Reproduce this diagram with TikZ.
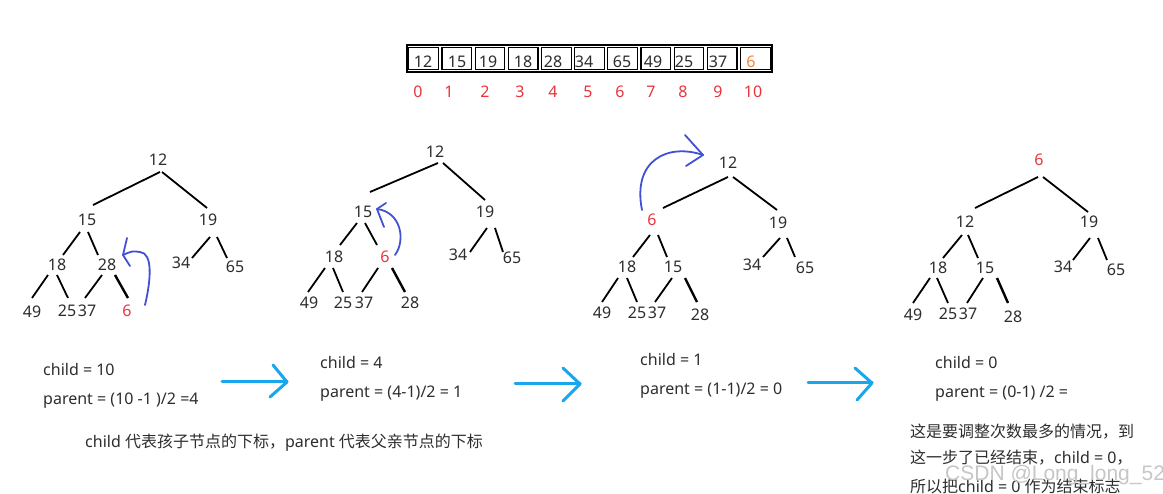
\documentclass[tikz,border=0pt]{standalone}
\usepackage{fontspec}
\setmainfont{Noto Sans}
\newfontfamily\cjk{Noto Sans CJK SC}
\newfontfamily\wmfont{Liberation Sans}
\definecolor{txt}{RGB}{45,45,45}
\definecolor{idxred}{RGB}{232,52,60}
\definecolor{orng}{RGB}{240,136,60}
\definecolor{hand}{RGB}{66,80,212}
\definecolor{cyanarr}{RGB}{24,166,236}
\newcommand\tedge[4]{\draw[edge] ([shift={#2}]#1.center) -- ([shift={#4}]#3.center);}
\newcommand\tedgeb[4]{\draw[edge,line width=2.4pt] ([shift={#2}]#1.center) -- ([shift={#4}]#3.center);}
\begin{document}
\begin{tikzpicture}[x=1pt,y=-1pt,
  tn/.style={font=\fontsize{16}{19}\selectfont,text=txt,inner sep=0pt},
  rn/.style={tn,text=idxred},
  lbl/.style={font=\fontsize{16}{19}\selectfont,text=txt,inner sep=0pt,anchor=base west},
  edge/.style={line width=1.8pt,black},
  handarr/.style={hand,line width=1.8pt,line cap=round,line join=round},
  cyarr/.style={cyanarr,line width=3pt,line cap=round,line join=round}]
\useasboundingbox (0,0) rectangle (1163,494);
\clip (0,0) rectangle (1163,494);

% ---------------- array ----------------
\foreach \i in {0,...,10}{
  \draw[line width=1.2pt] ({407+33.18*\i+1.8},47.8) rectangle ({407+33.18*(\i+1)-1.8},69.2);
}
\draw[line width=2.5pt] (407,45) rectangle (772,72);
\foreach \x/\v/\n in {423/12/0,457/15/1,488/19/2,523/18/3,553/28/4,584/34/5,622/65/6,653/49/7,684/25/8,718/37/9}{
  \node[tn] (v\n) at (\x,62) {\v};
}
\node[tn,text=orng] (v10) at (751,62) {6};
\foreach \x/\v in {418/0,449/1,485/2,520/3,553/4,588/5,620/6,651/7,683/8,718/9,753/10}{
  \node[rn] (i\v) at (\x,92) {\v};
}

% ---------------- tree 1 ----------------
\node[tn] (a1) at (158,160) {12};
\node[tn] (b1) at (87,220) {15};
\node[tn] (c1) at (208,220) {19};
\node[tn] (d1) at (57,265) {18};
\node[tn] (e1) at (107,265) {28};
\node[tn] (f1) at (181,263) {34};
\node[tn] (g1) at (235,267) {65};
\node[tn] (h1) at (32,312) {49};
\node[tn] (j1) at (67,311) {25};
\node[tn] (k1) at (87,311) {37};
\node[rn] (l1) at (127,311) {6};
\tedge{a1}{(2,12)}{b1}{(6,-15)}
\tedge{a1}{(4,12)}{c1}{(-1,-12)}
\tedge{b1}{(-7,12)}{d1}{(6,-10)}
\tedge{b1}{(1,12)}{e1}{(-9,-10)}
\tedge{d1}{(-9,10)}{h1}{(0,-14)}
\tedge{d1}{(0,10)}{j1}{(1,-13)}
\tedge{e1}{(-5,10)}{k1}{(-2,-13)}
\tedgeb{e1}{(8,10)}{l1}{(1,-13)}
\tedge{c1}{(2,17)}{f1}{(11,-5)}
\tedge{c1}{(9,17)}{g1}{(-8,-9)}
\coordinate (h1s) at (145,305);
\coordinate (h1t) at (123,255);
\draw[handarr] (h1s) .. controls (151,280) and (153,253) .. (140,252) .. controls (132,251) .. (h1t);
\draw[handarr] (127,238) -- (h1t) -- (130,266);

% ---------------- tree 2 ----------------
\node[tn] (a2) at (435,152) {12};
\node[tn] (b2) at (363,212) {15};
\node[tn] (c2) at (485,212) {19};
\node[tn] (d2) at (334,257) {18};
\node[rn] (e2) at (385,257) {6};
\node[tn] (f2) at (458,255) {34};
\node[tn] (g2) at (512,258) {65};
\node[tn] (h2) at (309,303) {49};
\node[tn] (j2) at (343,303) {25};
\node[tn] (k2) at (364,303) {37};
\node[tn] (l2) at (410,303) {28};
\tedge{a2}{(3,11)}{b2}{(7,-20)}
\tedge{a2}{(8,11)}{c2}{(0,-12)}
\tedge{b2}{(-6,11)}{d2}{(6,-12)}
\tedge{b2}{(2,11)}{e2}{(-8,-12)}
\tedge{d2}{(-9,11)}{h2}{(-1,-11)}
\tedge{d2}{(-1,11)}{j2}{(0,-11)}
\tedge{e2}{(-7,11)}{k2}{(-2,-11)}
\tedgeb{e2}{(7,11)}{l2}{(-5,-11)}
\tedge{c2}{(2,16)}{f2}{(12,-3)}
\tedge{c2}{(10,16)}{g2}{(-9,-6)}
\coordinate (h2s) at (395,255);
\coordinate (h2t) at (377,209);
\draw[handarr] (h2s) .. controls (406,240) and (401,212) .. (h2t);
\draw[handarr] (386,203) -- (h2t) -- (384,227);

% ---------------- tree 3 ----------------
\node[tn] (a3) at (728,163) {12};
\node[rn] (b3) at (652,220) {6};
\node[tn] (c3) at (778,223) {19};
\node[tn] (d3) at (627,267) {18};
\node[tn] (e3) at (673,267) {15};
\node[tn] (f3) at (752,265) {34};
\node[tn] (g3) at (805,268) {65};
\node[tn] (h3) at (602,313) {49};
\node[tn] (j3) at (637,313) {25};
\node[tn] (k3) at (657,313) {37};
\node[tn] (l3) at (700,315) {28};
\tedge{a3}{(0,14)}{b3}{(11,-12)}
\tedge{a3}{(5,14)}{c3}{(-1,-13)}
\tedge{b3}{(-2,15)}{d3}{(6,-10)}
\tedge{b3}{(6,15)}{e3}{(-6,-10)}
\tedge{d3}{(-9,11)}{h3}{(0,-11)}
\tedge{d3}{(0,11)}{j3}{(0,-11)}
\tedge{e3}{(-1,11)}{k3}{(-2,-11)}
\tedgeb{e3}{(12,11)}{l3}{(-3,-13)}
\tedge{c3}{(2,15)}{f3}{(11,-8)}
\tedge{c3}{(9,15)}{g3}{(-10,-11)}
\coordinate (h3s) at (642,210);
\coordinate (h3t) at (703,155);
\draw[handarr] (h3s) .. controls (632,160) and (668,143) .. (h3t);
\draw[handarr] (685,135) -- (h3t) -- (686,166);

% ---------------- tree 4 ----------------
\node[rn] (a4) at (1039,160) {6};
\node[tn] (b4) at (965,222) {12};
\node[tn] (c4) at (1089,222) {19};
\node[tn] (d4) at (938,268) {18};
\node[tn] (e4) at (985,268) {15};
\node[tn] (f4) at (1063,267) {34};
\node[tn] (g4) at (1116,270) {65};
\node[tn] (h4) at (913,315) {49};
\node[tn] (j4) at (948,314) {25};
\node[tn] (k4) at (968,314) {37};
\node[tn] (l4) at (1013,317) {28};
\tedge{a4}{(-1,17)}{b4}{(10,-14)}
\tedge{a4}{(4,17)}{c4}{(-1,-10)}
\tedge{b4}{(-3,13)}{d4}{(5,-10)}
\tedge{b4}{(3,13)}{e4}{(-7,-10)}
\tedge{d4}{(-8,10)}{h4}{(0,-12)}
\tedge{d4}{(-1,10)}{j4}{(0,-11)}
\tedge{e4}{(-2,10)}{k4}{(-1,-11)}
\tedgeb{e4}{(12,10)}{l4}{(-5,-14)}
\tedge{c4}{(1,16)}{f4}{(10,-7)}
\tedge{c4}{(9,16)}{g4}{(-9,-10)}

% ---------------- texts ----------------
\node[lbl] (t1a) at (43,376) {child = 10};
\node[lbl] (t1b) at (43,405) {parent = (10 -1 )/2 =4};
\node[lbl] (t2a) at (320,369) {child = 4};
\node[lbl] (t2b) at (320,398) {parent = (4-1)/2 = 1};
\node[lbl] (t3a) at (640,366) {child = 1};
\node[lbl] (t3b) at (640,395) {parent = (1-1)/2 = 0};
\node[lbl] (t4a) at (935,369) {child = 0};
\node[lbl] (t4b) at (935,398) {parent = (0-1) /2 =};
\node[lbl] (note) at (85,448) {child {\cjk 代表孩子节点的下标，}parent {\cjk 代表父亲节点的下标}};
\node[lbl] (n1) at (910,438) {\cjk 这是要调整次数最多的情况，到};
\node[lbl] (n2) at (910,464) {{\cjk 这一步了已经结束，}child = 0{\cjk ，}};
\node[lbl] (n3) at (910,493) {{\cjk 所以把}child = 0 {\cjk 作为结束标志}};
\node[font=\wmfont\fontsize{21}{24}\selectfont,text=gray!45,inner sep=0pt,anchor=base west] (wm) at (945,481) {CSDN @Long\_long\_52};

% ---------------- cyan arrows ----------------
\coordinate (s1) at (222,382); \coordinate (e1t) at (287,382);
\draw[cyarr] (s1) -- (e1t);
\draw[cyarr] (273,365) -- (e1t) -- (270,397);
\coordinate (s2) at (515,384); \coordinate (e2t) at (580,384);
\draw[cyarr] (s2) -- (e2t);
\draw[cyarr] (563,368) -- (e2t) -- (563,401);
\coordinate (s3) at (808,383); \coordinate (e3t) at (872,383);
\draw[cyarr] (s3) -- (e3t);
\draw[cyarr] (855,368) -- (e3t) -- (857,400);
\end{tikzpicture}
\end{document}
